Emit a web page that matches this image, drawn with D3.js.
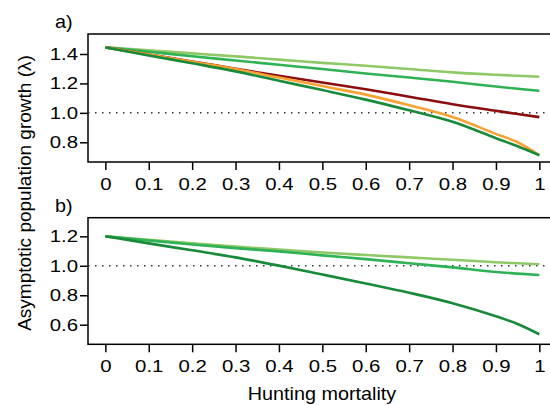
<!DOCTYPE html>
<html>
<head>
<meta charset="utf-8">
<script src="https://cdn.jsdelivr.net/npm/d3@7"></script>
<style>
  body { margin: 0; background: #fff; }
  text { font-family: "Liberation Sans", Arial, sans-serif; fill: #000; }
</style>
</head>
<body>
<div class="chart"></div>
<script>
// hunting mortality values
const mortality = [0, 0.1, 0.2, 0.3, 0.4, 0.5, 0.6, 0.7, 0.8, 0.9, 0.95, 1];
const xTicks = [0, 0.1, 0.2, 0.3, 0.4, 0.5, 0.6, 0.7, 0.8, 0.9, 1];

// panel a) series
const aLight  = [1.445, 1.425, 1.404, 1.384, 1.362, 1.340, 1.320, 1.298, 1.275, 1.259, 1.252, 1.245];
const aMedium = [1.445, 1.415, 1.385, 1.356, 1.327, 1.298, 1.268, 1.240, 1.211, 1.179, 1.164, 1.150];
const aRed    = [1.445, 1.397, 1.349, 1.300, 1.252, 1.206, 1.160, 1.110, 1.059, 1.014, 0.992, 0.971];
const aOrange = [1.445, 1.397, 1.348, 1.298, 1.240, 1.182, 1.124, 1.052, 0.972, 0.857, 0.800, 0.712];
const aDark   = [1.445, 1.390, 1.337, 1.282, 1.218, 1.155, 1.090, 1.017, 0.939, 0.828, 0.773, 0.712];
const aTicks = [0.8, 1.0, 1.2, 1.4];

// panel b) series
const bLight  = [1.200, 1.176, 1.152, 1.130, 1.110, 1.090, 1.073, 1.057, 1.041, 1.024, 1.017, 1.010];
const bMedium = [1.200, 1.172, 1.145, 1.120, 1.098, 1.071, 1.045, 1.017, 0.989, 0.958, 0.947, 0.937];
const bDark   = [1.200, 1.152, 1.105, 1.057, 1.001, 0.941, 0.880, 0.817, 0.746, 0.657, 0.605, 0.535];
const bTicks = [0.6, 0.8, 1.0, 1.2];

const colors = {light: "#8fc866", medium: "#2fb155", red: "#8b0d0d", orange: "#f7a233", dark: "#188a3a"};

const width = 550, height = 405;
const sx = 1.2; // tick text is a bit wide in the original

const svg = d3.select(".chart").append("svg")
    .attr("width", width)
    .attr("height", height);

const x = d3.scaleLinear().domain([-0.04, 1.04]).range([88, 556.7]);

function stretchText(sel, k) {
  sel.selectAll("text").each(function() {
    const t = d3.select(this);
    const tx = +t.attr("x") || 0, ty = +t.attr("y") || 0;
    t.attr("x", 0).attr("y", 0)
     .attr("transform", `translate(${tx},${ty}) scale(${k},1)`);
  });
}

function panel(label, domain, top, bottom, ticks, series) {
  const y = d3.scaleLinear().domain(domain).range([bottom, top]);

  // frame (left, top, bottom; right edge falls off the picture)
  svg.append("rect")
      .attr("x", x.range()[0])
      .attr("y", top)
      .attr("width", x.range()[1] - x.range()[0])
      .attr("height", bottom - top)
      .attr("fill", "none")
      .attr("stroke", "#000")
      .attr("stroke-width", 1.5);

  // reference line at 1
  svg.append("line")
      .attr("x1", x.range()[0]).attr("x2", width)
      .attr("y1", y(1)).attr("y2", y(1))
      .attr("stroke", "#333")
      .attr("stroke-width", 1.5)
      .attr("stroke-dasharray", "1.5 5.5");

  const line = d3.line()
      .x((d, i) => x(mortality[i]))
      .y(d => y(d))
      .curve(d3.curveMonotoneX);

  series.forEach(s => {
    svg.append("path")
        .datum(s.values)
        .attr("fill", "none")
        .attr("stroke", s.color)
        .attr("stroke-width", 2.6)
        .attr("stroke-linejoin", "round")
        .attr("d", line);
  });

  const xAxis = d3.axisBottom(x)
      .tickValues(xTicks)
      .tickFormat(d3.format("~g"))
      .tickSize(8)
      .tickPadding(8);
  const gx = svg.append("g")
      .attr("transform", `translate(0,${bottom})`)
      .call(xAxis);
  gx.select(".domain").remove();
  gx.selectAll("line").attr("stroke-width", 1.5);
  gx.selectAll("text").attr("font-size", 17).attr("font-family", null);
  stretchText(gx, sx);

  const yAxis = d3.axisLeft(y)
      .tickValues(ticks)
      .tickFormat(d3.format(".1f"))
      .tickSize(8)
      .tickPadding(2);
  const gy = svg.append("g")
      .attr("transform", `translate(${x.range()[0]},0)`)
      .call(yAxis);
  gy.select(".domain").remove();
  gy.selectAll("line").attr("stroke-width", 1.5);
  gy.selectAll("text").attr("font-size", 17).attr("font-family", null);
  stretchText(gy, sx);

  svg.append("text")
      .attr("transform", `translate(55,${top - 6}) scale(1.1,1)`)
      .attr("font-size", 18)
      .text(label);
}

panel("a)", [0.666, 1.536], 34, 162, aTicks, [
  {values: aLight, color: colors.light},
  {values: aMedium, color: colors.medium},
  {values: aRed, color: colors.red},
  {values: aOrange, color: colors.orange},
  {values: aDark, color: colors.dark}
]);

panel("b)", [0.467, 1.3265], 217.7, 344.3, bTicks, [
  {values: bLight, color: colors.light},
  {values: bMedium, color: colors.medium},
  {values: bDark, color: colors.dark}
]);

// axis titles
svg.append("text")
    .attr("transform", "translate(322,400) scale(1.1,1)")
    .attr("text-anchor", "middle")
    .attr("font-size", 18)
    .text("Hunting mortality");

svg.append("text")
    .attr("transform", "translate(31,193) rotate(-90)")
    .attr("text-anchor", "middle")
    .attr("font-size", 19)
    .text("Asymptotic population growth (λ)");
</script>
</body>
</html>
